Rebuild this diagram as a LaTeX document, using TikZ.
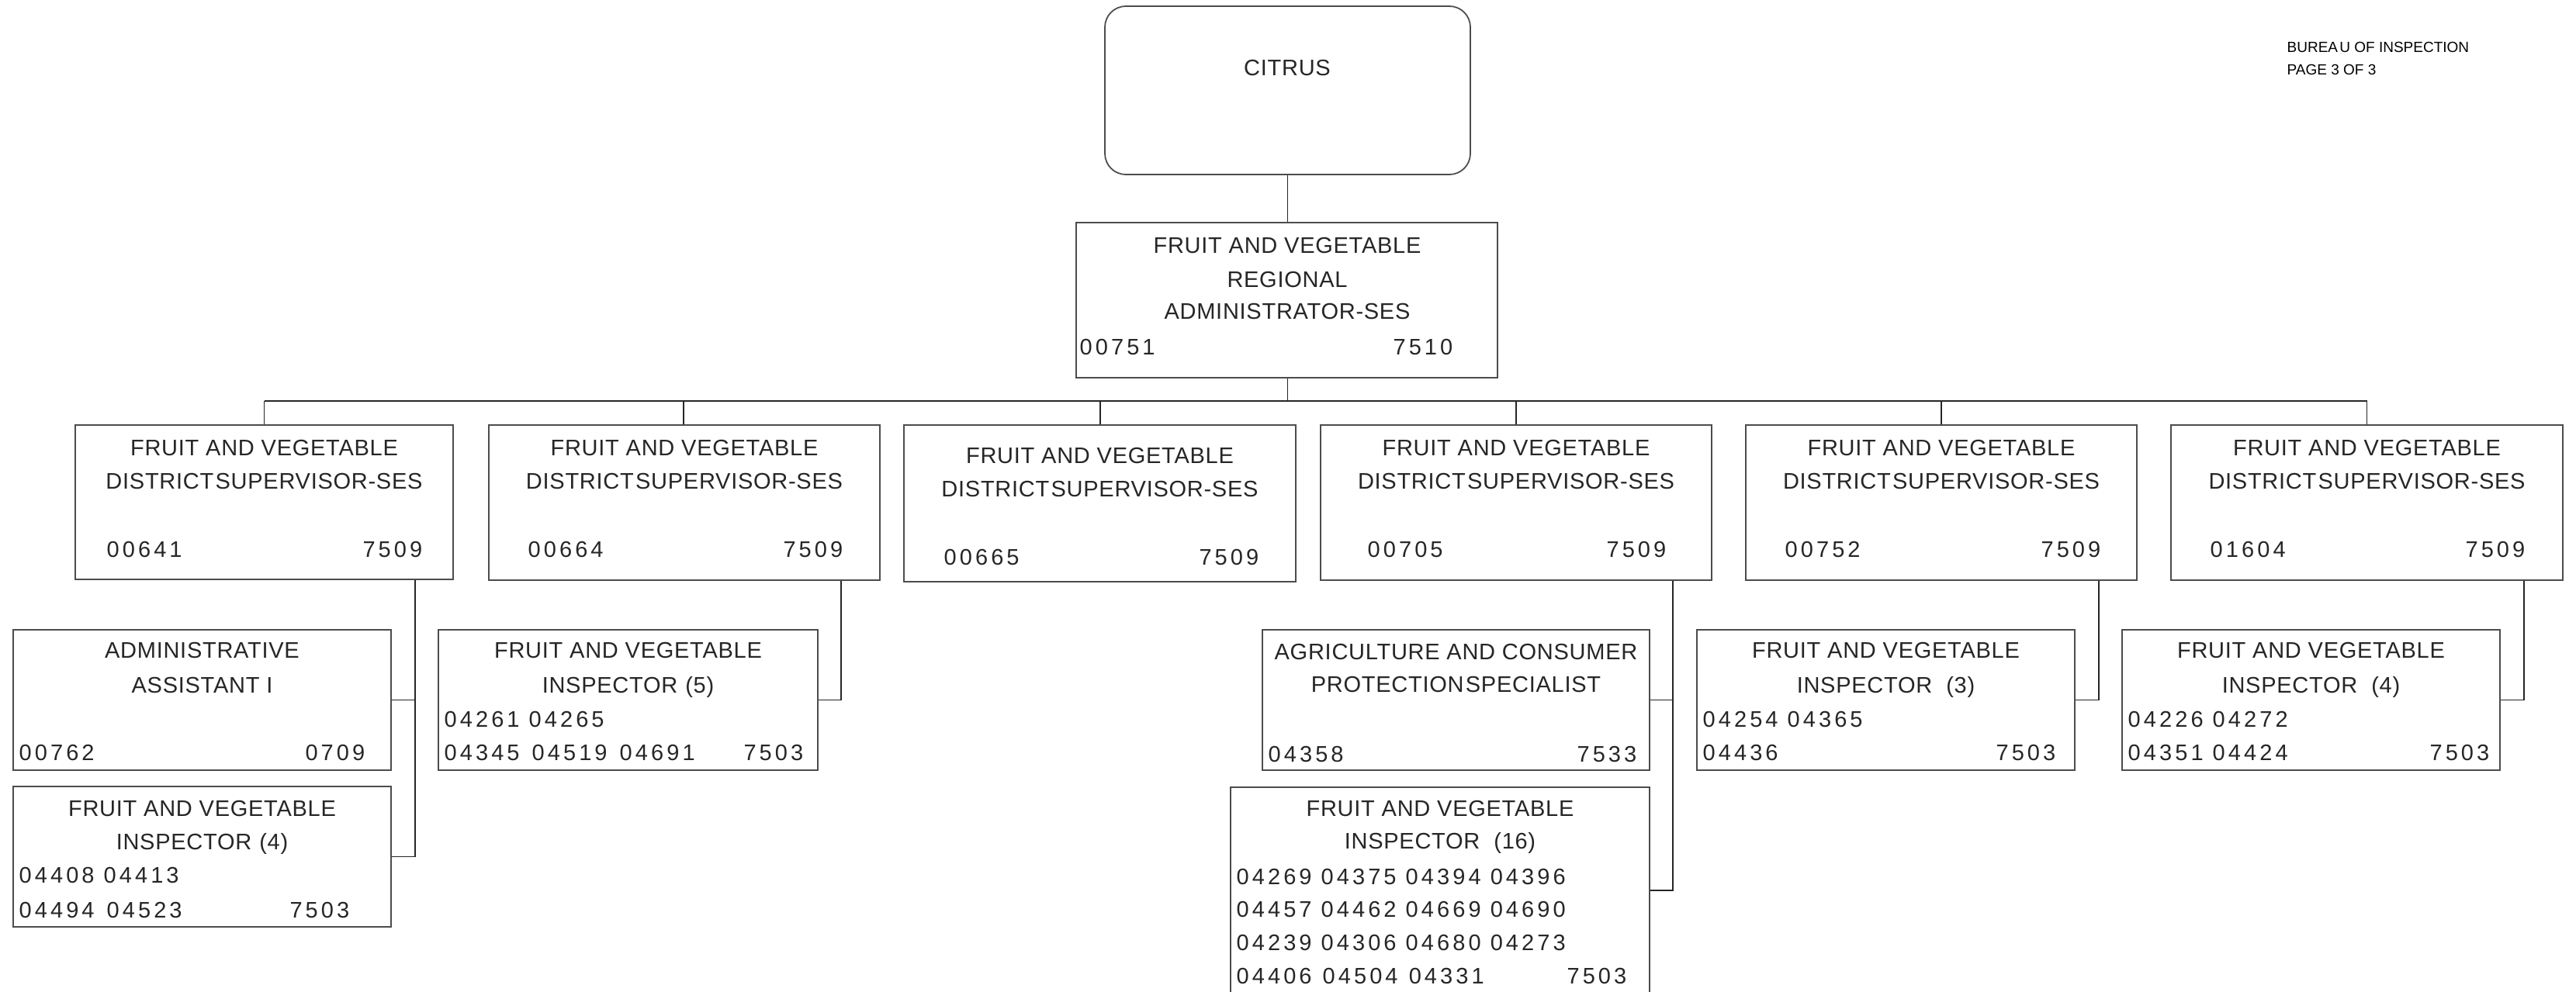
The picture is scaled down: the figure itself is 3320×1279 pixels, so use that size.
\documentclass[tikz,border=0pt]{standalone}
\usepackage{fontspec}
\setmainfont{Liberation Sans}
\newfontfamily\capsfam[LetterSpace=2.5]{Liberation Sans}
\newfontfamily\digitfam[LetterSpace=14]{Liberation Sans}
\newfontfamily\hdrfam{Liberation Sans}
\usetikzlibrary{fit}

\newcommand\boxtxt{\capsfam\fontsize{8.25pt}{10pt}\selectfont}
\newcommand\boxnum{\digitfam\fontsize{8.25pt}{10pt}\selectfont}
\newcommand\hdrtxt{\hdrfam\fontsize{5.4pt}{7pt}\selectfont}
\newcommand\wgap{\hspace{0.04cm}}
\newcommand\pgap{\hspace{0.10cm}}
\newcommand\qgap{\hspace{0.18cm}}

\tikzset{
  orgbox/.style={draw=black!70, line width=0.5pt, inner sep=0pt},
  wire/.style={draw=black!85, line width=0.4pt},
  ttl/.style={inner sep=0pt, anchor=base, font=\boxtxt, text=black!85},
  nl/.style={inner sep=0pt, anchor=base west, font=\boxnum, text=black!85},
  nr/.style={inner sep=0pt, anchor=base east, font=\boxnum, text=black!85},
}

\begin{document}
\begin{tikzpicture}[x=0.01cm, y=-0.01cm]
\clip (0,0) rectangle (3320,1279);
\fill[white] (0,0) rectangle (3320,1279);

% header
\node[inner sep=0pt, anchor=base west, font=\hdrtxt] (hdra) at (2947,68) {BUREA\kern0.12em U OF INSPECTION};
\node[inner sep=0pt, anchor=base west, font=\hdrtxt] (hdrb) at (2947,97) {PAGE 3 OF 3};

% top levels
\node[orgbox, rounded corners=0.27cm, fit={(1424,8) (1895,225)}] (citrus) {};
\node[ttl] (citrusT) at (1659,98) {CITRUS};

\node[orgbox, fit={(1387,287) (1930,487)}] (reg) {};
\node[ttl] (regA) at (1659,327) {FRUIT AND VEGETABLE};
\node[ttl] (regB) at (1659,370) {REGIONAL};
\node[ttl] (regC) at (1659,412) {ADMINISTRATOR-SES};
\node[nl] (regN) at (1391,457) {00751};
\node[nr] (regC2) at (1873,457) {7510};

% district supervisors
\node[orgbox, fit={(97,548) (584,747)}] (d1) {};
\node[orgbox, fit={(630,548) (1134,748)}] (d2) {};
\node[orgbox, fit={(1165,548) (1670,750)}] (d3) {};
\node[orgbox, fit={(1702,548) (2206,748)}] (d4) {};
\node[orgbox, fit={(2250,548) (2754,748)}] (d5) {};
\node[orgbox, fit={(2798,548) (3303,748)}] (d6) {};

\foreach \n/\cx/\base/\pl/\px/\cr in {
  d1/340.5/587/00641/137/545,
  d2/882/587/00664/680/1087,
  d3/1417.5/597/00665/1216/1623,
  d4/1954/587/00705/1762/2148,
  d5/2502/587/00752/2300/2708,
  d6/3050.5/587/01604/2848/3255}{
  \node[ttl] (\n a) at (\cx,\base) {FRUIT AND VEGETABLE};
  \node[ttl] (\n b) at (\cx,\base+43) {DISTRICT\kern0.08em SUPERVISOR-SES};
  \node[nl] (\n p) at (\px,\base+131) {\pl};
  \node[nr] (\n c) at (\cr,\base+131) {7509};
}

% staff boxes
\node[orgbox, fit={(17,812) (504,993)}] (aa) {};
\node[ttl] (aaA) at (260.5,848) {ADMINISTRATIVE};
\node[ttl] (aaB) at (260.5,893) {ASSISTANT I};
\node[nl] (aaP) at (24,980) {00762};
\node[nr] (aaC) at (471,980) {0709};

\node[orgbox, fit={(17,1014) (504,1195)}] (fl) {};
\node[ttl] (flA) at (260.5,1052) {FRUIT AND VEGETABLE};
\node[ttl] (flB) at (260.5,1095) {INSPECTOR\pgap (4)};
\node[nl] (flP) at (24,1138) {04408 04413};
\node[nl] (flQ) at (24,1183) {04494\wgap\ 04523};
\node[nr] (flC) at (451,1183) {7503};

\node[orgbox, fit={(565,812) (1054,993)}] (f5) {};
\node[ttl] (f5A) at (809.5,848) {FRUIT AND VEGETABLE};
\node[ttl] (f5B) at (809.5,893) {INSPECTOR\pgap (5)};
\node[nl] (f5P) at (572,937) {04261 04265};
\node[nl] (f5Q) at (572,980) {04345\wgap\ 04519\wgap\ 04691};
\node[nr] (f5C) at (1036,980) {7503};

\node[orgbox, fit={(1627,812) (2126,993)}] (ac) {};
\node[ttl] (acA) at (1876.5,850) {AGRICULTURE AND CONSUMER};
\node[ttl] (acB) at (1876.5,892) {PROTECTION\kern0.08em SPECIALIST};
\node[nl] (acP) at (1634,982) {04358};
\node[nr] (acC) at (2110,982) {7533};

\node[orgbox, fit={(1586,1015) (2126,1281)}] (f16) {};
\node[ttl] (f16A) at (1856,1052) {FRUIT AND VEGETABLE};
\node[ttl] (f16B) at (1856,1094) {INSPECTOR\qgap (16)};
\node[nl] (f16P) at (1593,1140) {04269 04375 04394 04396};
\node[nl] (f16Q) at (1593,1182) {04457 04462 04669 04690};
\node[nl] (f16R) at (1593,1225) {04239 04306 04680 04273};
\node[nl] (f16S) at (1593,1268) {04406\kern0.02cm\ 04504\kern0.02cm\ 04331};
\node[nr] (f16C) at (2097,1268) {7503};

\node[orgbox, fit={(2187,812) (2674,993)}] (f3) {};
\node[ttl] (f3A) at (2430.5,848) {FRUIT AND VEGETABLE};
\node[ttl] (f3B) at (2430.5,893) {INSPECTOR\qgap (3)};
\node[nl] (f3P) at (2194,937) {04254 04365};
\node[nl] (f3Q) at (2194,980) {04436};
\node[nr] (f3C) at (2650,980) {7503};

\node[orgbox, fit={(2735,812) (3222,993)}] (f4) {};
\node[ttl] (f4A) at (2978.5,848) {FRUIT AND VEGETABLE};
\node[ttl] (f4B) at (2978.5,893) {INSPECTOR\qgap (4)};
\node[nl] (f4P) at (2742,937) {04226 04272};
\node[nl] (f4Q) at (2742,980) {04351 04424};
\node[nr] (f4C) at (3209,980) {7503};

% connectors: top
\draw[wire] (citrus.south) -- (citrus.south |- reg.north);
\coordinate (busL) at (340.5,517);
\coordinate (busR) at (3050.5,517);
\draw[wire] (reg.south -| citrus.south) -- (citrus.south |- busL);
\draw[wire] (busL) -- (busR);
\coordinate (t1) at (340.5,517);
\coordinate (t2) at (881,517);
\coordinate (t3) at (1418,517);
\coordinate (t4) at (1954,517);
\coordinate (t5) at (2502,517);
\coordinate (t6) at (3050.5,517);
\draw[wire] (t1) -- (t1 |- d1.north);
\draw[wire] (t2) -- (t2 |- d2.north);
\draw[wire] (t3) -- (t3 |- d3.north);
\draw[wire] (t4) -- (t4 |- d4.north);
\draw[wire] (t5) -- (t5 |- d5.north);
\draw[wire] (t6) -- (t6 |- d6.north);

% connectors: staff
\coordinate (s1) at (535,0);
\coordinate (s2) at (1084,0);
\coordinate (s4) at (2156,0);
\coordinate (s5) at (2705,0);
\coordinate (s6) at (3253,0);
\draw[wire] (s1 |- d1.south) -- (s1 |- fl.east) -- (fl.east);
\draw[wire] (aa.east) -- (s1 |- aa.east);
\draw[wire] (s2 |- d2.south) -- (s2 |- f5.east) -- (f5.east);
\draw[wire] (s4 |- d4.south) -- (s4 |- f16.east) -- (f16.east);
\draw[wire] (ac.east) -- (s4 |- ac.east);
\draw[wire] (s5 |- d5.south) -- (s5 |- f3.east) -- (f3.east);
\draw[wire] (s6 |- d6.south) -- (s6 |- f4.east) -- (f4.east);
\end{tikzpicture}
\end{document}
